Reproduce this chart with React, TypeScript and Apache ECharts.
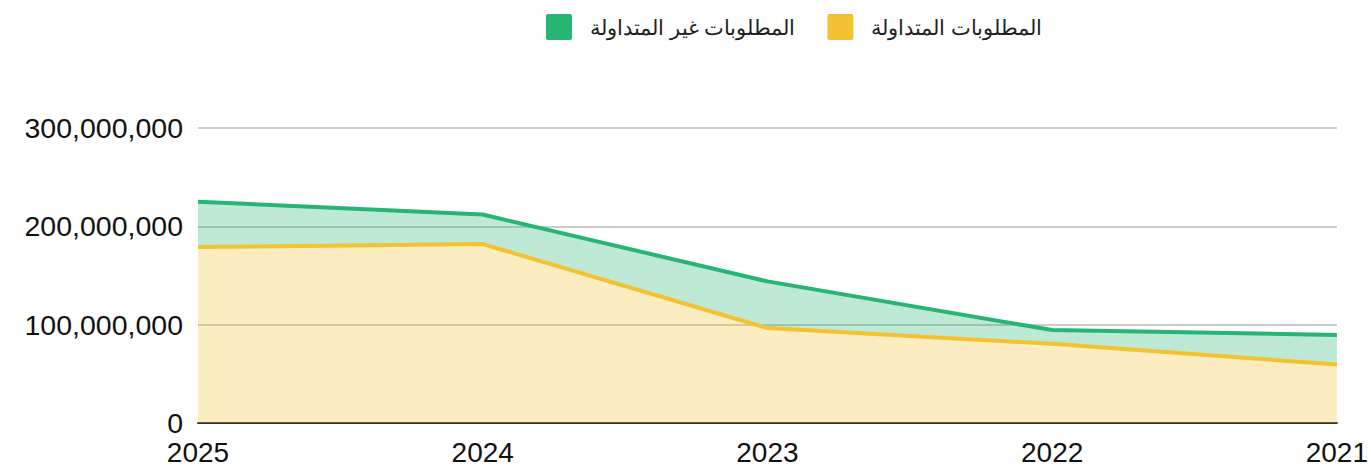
import React, { useEffect, useRef } from "react";
import * as echarts from "echarts";

const years = ["2025", "2024", "2023", "2022", "2021"];
const currentLiabilities = [179000000, 182000000, 96500000, 80500000, 59500000];
const nonCurrentLiabilities = [46000000, 30000000, 47500000, 14000000, 30000000];
const seriesNames = ["المطلوبات غير المتداولة", "المطلوبات المتداولة"];

export default function App() {
  const ref = useRef<HTMLDivElement>(null);
  useEffect(() => {
    if (!ref.current) return;
    const chart = echarts.init(ref.current, undefined, { renderer: "svg" });
    const font = "Liberation Sans, Arial, sans-serif";
    chart.setOption({
      animation: false,
      legend: {
        data: seriesNames,
        top: 14,
        left: 546,
        padding: 0,
        itemWidth: 26,
        itemHeight: 26,
        itemGap: 32,
        icon: "path://M2,0H24A2,2,0,0,1,26,2V24A2,2,0,0,1,24,26H2A2,2,0,0,1,0,24V2A2,2,0,0,1,2,0Z",
        textStyle: { fontFamily: font, fontSize: 20.5, color: "#222", padding: [0, 0, 0, 13] },
      },
      grid: { left: 198, right: 34, top: 128, bottom: 41, containLabel: false },
      xAxis: {
        type: "category",
        data: years,
        boundaryGap: false,
        axisLine: { lineStyle: { color: "#333", width: 2 } },
        axisTick: { show: false },
        axisLabel: { fontFamily: font, fontSize: 28, color: "#111", margin: 15 },
      },
      yAxis: {
        type: "value",
        min: 0,
        max: 300000000,
        interval: 100000000,
        axisLine: { show: false },
        axisTick: { show: false },
        axisLabel: {
          fontFamily: font,
          fontSize: 28.5,
          color: "#111",
          margin: 15,
          formatter: (v: number) => v.toLocaleString("en-US"),
        },
        splitLine: { lineStyle: { color: "#cccccc", width: 2 } },
      },
      series: [
        {
          name: seriesNames[1],
          type: "line",
          stack: "total",
          data: currentLiabilities,
          symbol: "none",
          lineStyle: { color: "#f2c230", width: 4 },
          itemStyle: { color: "#f2c230" },
          areaStyle: { color: "#f2c230", opacity: 0.3 },
        },
        {
          name: seriesNames[0],
          type: "line",
          stack: "total",
          data: nonCurrentLiabilities,
          symbol: "none",
          lineStyle: { color: "#27b574", width: 4 },
          itemStyle: { color: "#27b574" },
          areaStyle: { color: "#27b574", opacity: 0.3 },
        },
      ],
    });
    return () => chart.dispose();
  }, []);
  return <div ref={ref} style={{ width: 1371, height: 466, position: "absolute", left: 0, top: 0 }} />;
}
